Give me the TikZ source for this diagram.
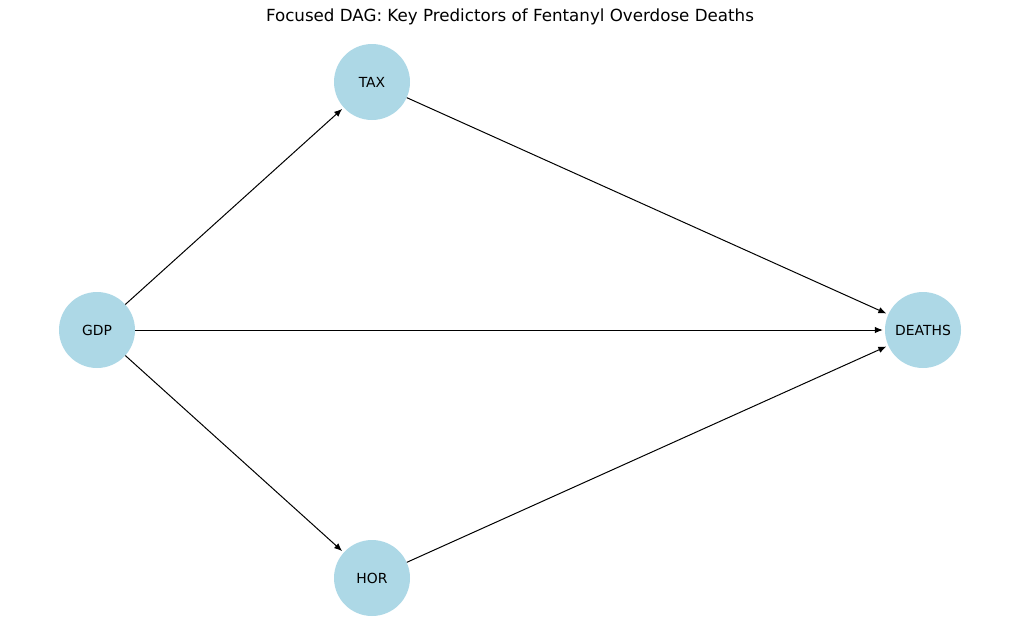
\documentclass[tikz,border=0pt]{standalone}
\usepackage{fontspec}
\setmainfont{DejaVu Sans}
\usetikzlibrary{arrows.meta}
\definecolor{nodeblue}{RGB}{173,216,230}
\begin{document}
\begin{tikzpicture}[x=1pt,y=-1pt,
  vertex/.style={circle,fill=nodeblue,minimum size=76pt,inner sep=0pt,font=\fontsize{13.9}{16}\selectfont},
  edge/.style={line width=1pt,-{Latex[length=8pt,width=6.5pt]},shorten >=2pt}]
\useasboundingbox (0,0) rectangle (1019,640);
\node[font=\fontsize{16.7}{20}\selectfont] (title) at (510,17) {Focused DAG: Key Predictors of Fentanyl Overdose Deaths};
\node[vertex] (GDP) at (97,330) {GDP};
\node[vertex] (TAX) at (372,82) {TAX};
\node[vertex] (HOR) at (372,578) {HOR};
\node[vertex] (DEATHS) at (923,330) {DEATHS};
\draw[edge] (GDP) -- (TAX);
\draw[edge] (GDP) -- (DEATHS);
\draw[edge] (GDP) -- (HOR);
\draw[edge] (TAX) -- (DEATHS);
\draw[edge] (HOR) -- (DEATHS);
\end{tikzpicture}
\end{document}
